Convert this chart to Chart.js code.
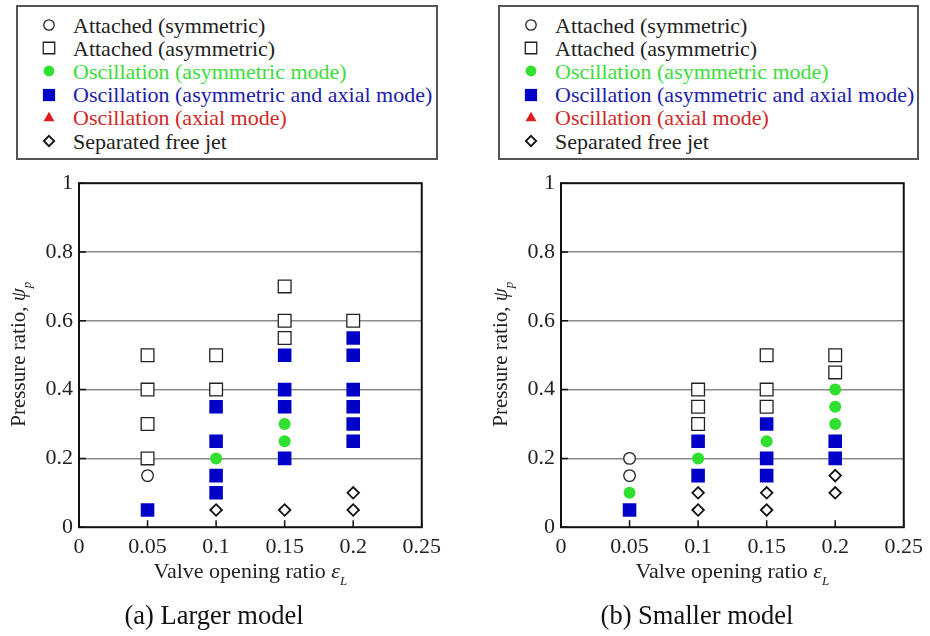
<!DOCTYPE html>
<html>
<head>
<meta charset="utf-8">
<script src="https://cdn.jsdelivr.net/npm/chart.js@4.4.0/dist/chart.umd.min.js"></script>
<style>
  body { margin: 0; background: #fff; font-family: 'Liberation Serif', 'Times New Roman', serif; }
  #page { position: relative; width: 930px; height: 636px; overflow: hidden; }
  .legend { position: absolute; top: 5px; height: 155px; box-sizing: border-box; border: 2px solid #555; background: #fff; }
  .legend .row { position: absolute; height: 23px; line-height: 23px; font-size: 22px; white-space: nowrap; }
  .legend canvas { position: absolute; }
  .panel { position: absolute; top: 164px; height: 472px; }
</style>
</head>
<body>
<div id="page">
  <div class="legend" id="legendA" style="left:16px;width:422px;"></div>
  <div class="legend" id="legendB" style="left:498px;width:421px;"></div>
  <div class="panel" style="left:0;width:448px;"><canvas id="chartA" width="448" height="472"></canvas></div>
  <div class="panel" style="left:484px;width:446px;"><canvas id="chartB" width="446" height="472"></canvas></div>
</div>
<script>
// valve opening ratios (x) where measurements were taken
const openingRatios = [0.05, 0.1, 0.15, 0.2];
const xTicks = [0, 0.05, 0.1, 0.15, 0.2, 0.25];
const yTicks = [0, 0.2, 0.4, 0.6, 0.8, 1];

const seriesNames = [
  "Attached (symmetric)",
  "Attached (asymmetric)",
  "Oscillation (asymmetric mode)",
  "Oscillation (asymmetric and axial mode)",
  "Oscillation (axial mode)",
  "Separated free jet"
];

// pressure ratios for each opening ratio - larger model
const largeSym = [[0.15], [], [], []];
const largeAsym = [[0.5, 0.4, 0.3, 0.2], [0.5, 0.4], [0.7, 0.6, 0.55], [0.6]];
const largeOscAsym = [[], [0.2], [0.3, 0.25], []];
const largeOscBoth = [[0.05], [0.35, 0.25, 0.15, 0.1], [0.5, 0.4, 0.35, 0.2], [0.55, 0.5, 0.4, 0.35, 0.3, 0.25]];
const largeOscAxial = [[], [], [], []];
const largeFreeJet = [[], [0.05], [0.05], [0.1, 0.05]];

// pressure ratios for each opening ratio - smaller model
const smallSym = [[0.2, 0.15], [], [], []];
const smallAsym = [[], [0.4, 0.35, 0.3], [0.5, 0.4, 0.35], [0.5, 0.45]];
const smallOscAsym = [[0.1], [0.2], [0.25], [0.4, 0.35, 0.3]];
const smallOscBoth = [[0.05], [0.25, 0.15], [0.3, 0.2, 0.15], [0.25, 0.2]];
const smallOscAxial = [[], [], [], []];
const smallFreeJet = [[], [0.1, 0.05], [0.1, 0.05], [0.15, 0.1]];

const FONT = "'Liberation Serif', 'Times New Roman', serif";

const markerStyles = [
  { pointStyle: "circle", radius: 5.8, bg: "#fff", border: "#222", bw: 1.3 },
  { pointStyle: "rect", radius: 9, bg: "#fff", border: "#222", bw: 1.3 },
  { pointStyle: "circle", radius: 6, bg: "#2fe02f", border: "#2fe02f", bw: 0 },
  { pointStyle: "rect", radius: 9.6, bg: "#0000c8", border: "#0000c8", bw: 0 },
  { pointStyle: "triangle", radius: 7, bg: "#e01b1b", border: "#e01b1b", bw: 0 },
  { pointStyle: "rectRot", radius: 5.8, bg: "#fff", border: "#111", bw: 1.8 }
];
const legendTextColors = ["#222", "#222", "#3bdc3b", "#2020a8", "#d02828", "#222"];

function toPoints(cols) {
  var pts = [];
  openingRatios.forEach(function (x, i) {
    cols[i].forEach(function (y) { pts.push({ x: x, y: y }); });
  });
  return pts;
}

function drawMarker(c, st, scale) {
  var g = c.getContext("2d");
  var cx = c.width / 2, cy = c.height / 2, r = st.radius * scale;
  g.beginPath();
  if (st.pointStyle === "circle") {
    g.arc(cx, cy, r, 0, Math.PI * 2);
  } else if (st.pointStyle === "rect") {
    var s = r * Math.SQRT1_2;
    g.rect(cx - s, cy - s, 2 * s, 2 * s);
  } else if (st.pointStyle === "rectRot") {
    g.moveTo(cx, cy - r); g.lineTo(cx + r, cy); g.lineTo(cx, cy + r); g.lineTo(cx - r, cy); g.closePath();
  } else {
    var a = 0;
    g.moveTo(cx + Math.sin(a) * r, cy - Math.cos(a) * r);
    a += Math.PI * 2 / 3;
    g.lineTo(cx + Math.sin(a) * r, cy - Math.cos(a) * r);
    a += Math.PI * 2 / 3;
    g.lineTo(cx + Math.sin(a) * r, cy - Math.cos(a) * r);
    g.closePath();
  }
  g.fillStyle = st.bg;
  g.fill();
  if (st.bw > 0) { g.lineWidth = st.bw; g.strokeStyle = st.border; g.stroke(); }
}

function buildLegend(id) {
  var box = document.getElementById(id);
  seriesNames.forEach(function (name, i) {
    var cy = 18 + 23.2 * i; // relative to inside of border
    var c = document.createElement("canvas");
    c.width = 20; c.height = 20;
    c.style.left = (31 - 10) + "px";
    c.style.top = (cy - 10) + "px";
    drawMarker(c, markerStyles[i], 0.9);
    box.appendChild(c);
    var row = document.createElement("div");
    row.className = "row";
    row.style.left = "55px";
    row.style.top = (cy - 11.5) + "px";
    row.style.color = legendTextColors[i];
    row.textContent = name;
    box.appendChild(row);
  });
}

// frame, inside ticks and axis titles with subscripts
const framePlugin = {
  id: "frame",
  afterDraw(chart) {
    var ctx = chart.ctx, a = chart.chartArea, x = chart.scales.x, y = chart.scales.y;
    ctx.save();
    ctx.strokeStyle = "#111";
    ctx.lineWidth = 2;
    ctx.strokeRect(a.left, a.top, a.right - a.left, a.bottom - a.top);
    ctx.lineWidth = 1.5;
    ctx.beginPath();
    x.ticks.forEach(function (t) {
      var px = x.getPixelForValue(t.value);
      ctx.moveTo(px, a.bottom); ctx.lineTo(px, a.bottom - 7);
    });
    y.ticks.forEach(function (t) {
      var py = y.getPixelForValue(t.value);
      ctx.moveTo(a.left, py); ctx.lineTo(a.left + 7, py);
    });
    ctx.stroke();

    ctx.fillStyle = "#222";
    ctx.textBaseline = "alphabetic";
    ctx.textAlign = "left";
    var xParts = [
      { t: "Valve opening ratio ", f: "22px " + FONT, dy: 0 },
      { t: "\u03b5", f: "italic 22px " + FONT, dy: 0 },
      { t: "L", f: "italic 13px " + FONT, dy: 7 }
    ];
    drawParts(ctx, xParts, (a.left + a.right) / 2, a.bottom + 51, 0);
    var yParts = [
      { t: "Pressure ratio, ", f: "21px " + FONT, dy: 0 },
      { t: "\u03c8", f: "italic 21px " + FONT, dy: 0 },
      { t: "p", f: "italic 13px " + FONT, dy: 6 }
    ];
    drawParts(ctx, yParts, a.left - 54, (a.top + a.bottom) / 2 - 1, -Math.PI / 2);
    ctx.restore();
  }
};

function drawParts(ctx, parts, cx, cy, rot) {
  var total = 0;
  parts.forEach(function (p) { ctx.font = p.f; p.w = ctx.measureText(p.t).width; total += p.w; });
  ctx.save();
  ctx.translate(cx, cy);
  ctx.rotate(rot);
  var pos = -total / 2;
  parts.forEach(function (p) {
    ctx.font = p.f;
    ctx.fillText(p.t, pos, p.dy);
    pos += p.w;
  });
  ctx.restore();
}

function makeChart(id, caption, groups, yAxisWidth) {
  var datasets = groups.map(function (cols, i) {
    var st = markerStyles[i];
    return {
      label: seriesNames[i],
      data: toPoints(cols),
      pointStyle: st.pointStyle,
      pointRadius: st.radius,
      backgroundColor: st.bg,
      borderColor: st.border,
      borderWidth: st.bw,
      showLine: false
    };
  });
  return new Chart(document.getElementById(id), {
    type: "scatter",
    data: { datasets: datasets },
    plugins: [framePlugin],
    options: {
      responsive: false,
      animation: false,
      layout: { padding: { top: 16, right: 20, left: 0, bottom: 0 } },
      plugins: {
        legend: { display: false },
        tooltip: { enabled: false },
        title: {
          display: true,
          position: "bottom",
          text: caption,
          color: "#111",
          font: { family: FONT, size: 26.5, weight: "normal" },
          padding: { top: 4, bottom: 3 }
        }
      },
      scales: {
        x: {
          type: "linear",
          min: 0,
          max: 0.25,
          afterBuildTicks: function (s) { s.ticks = xTicks.map(function (v) { return { value: v }; }); },
          afterFit: function (s) { s.height = 70; },
          grid: { display: false, drawTicks: false },
          border: { display: false },
          ticks: {
            padding: 7,
            color: "#222",
            maxRotation: 0,
            autoSkip: false,
            font: { family: FONT, size: 22 },
            callback: function (v) { return String(v); }
          }
        },
        y: {
          type: "linear",
          min: 0,
          max: 1,
          afterBuildTicks: function (s) { s.ticks = yTicks.map(function (v) { return { value: v }; }); },
          afterFit: function (s) { s.width = yAxisWidth; },
          grid: {
            drawTicks: false,
            lineWidth: 1.5,
            color: function (c) {
              return c.tick && c.tick.value > 0 && c.tick.value < 1 ? "#8a8a8a" : "rgba(0,0,0,0)";
            }
          },
          border: { display: false },
          ticks: {
            padding: 6,
            color: "#222",
            font: { family: FONT, size: 22 },
            callback: function (v) { return String(v); }
          }
        }
      }
    }
  });
}

buildLegend("legendA");
buildLegend("legendB");

makeChart("chartA", "(a) Larger model",
  [largeSym, largeAsym, largeOscAsym, largeOscBoth, largeOscAxial, largeFreeJet], 79);
makeChart("chartB", "(b) Smaller model",
  [smallSym, smallAsym, smallOscAsym, smallOscBoth, smallOscAxial, smallFreeJet], 77);
</script>
</body>
</html>
